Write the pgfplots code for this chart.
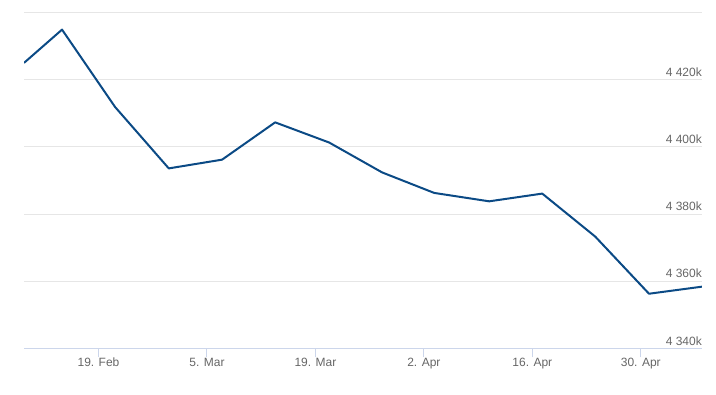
\documentclass[border=0pt]{standalone}
\usepackage{pgfplots}
\pgfplotsset{compat=1.18}
\usepackage{fontspec}
\setmainfont{Liberation Sans}
\definecolor{linec}{HTML}{0B4A85}
\definecolor{gridc}{HTML}{E6E6E6}
\definecolor{axisc}{HTML}{CCD6EB}
\definecolor{labc}{HTML}{666666}
\begin{document}
\begin{tikzpicture}[x=1pt,y=1pt]
\path[use as bounding box] (0,0) rectangle (716,395);
\begin{axis}[
  at={(24pt,46.5pt)}, anchor=south west,
  scale only axis, width=678pt, height=336pt,
  xmin=-9.62, xmax=77.9, ymin=4340, ymax=4440,
  axis x line=bottom, axis y line=right,
  x axis line style={axisc, line width=1pt, -},
  y axis line style={draw=none},
  tick align=outside, major tick length=9pt,
  xtick={0,14,28,42,56,70},
  xticklabels={19. Feb,5. Mar,19. Mar,2. Apr,16. Apr,30. Apr},
  xtick style={axisc, line width=1pt},
  ytick={4340,4360,4380,4400,4420,4440},
  yticklabels={4 340k,4 360k,4 380k,4 400k,4 420k,},
  ytick style={draw=none},
  ymajorgrids, major grid style={gridc, line width=1pt},
  tick label style={font=\fontsize{12}{14}\selectfont, text=labc},
  yticklabel style={anchor=south east, inner sep=0pt, xshift=-9pt, yshift=3pt},
  xticklabel style={yshift=3pt},
  clip=true,
]
\addplot[linec, line width=2pt, line join=round] coordinates {
(-9.62,4425.0)
(-4.71,4434.9)
(2.13,4411.9)
(9.07,4393.6)
(15.95,4396.2)
(22.80,4407.3)
(29.77,4401.3)
(36.61,4392.4)
(43.33,4386.3)
(50.43,4383.8)
(57.28,4386.1)
(64.12,4373.3)
(71.06,4356.3)
(77.90,4358.4)
};
\end{axis}
\end{tikzpicture}
\end{document}
